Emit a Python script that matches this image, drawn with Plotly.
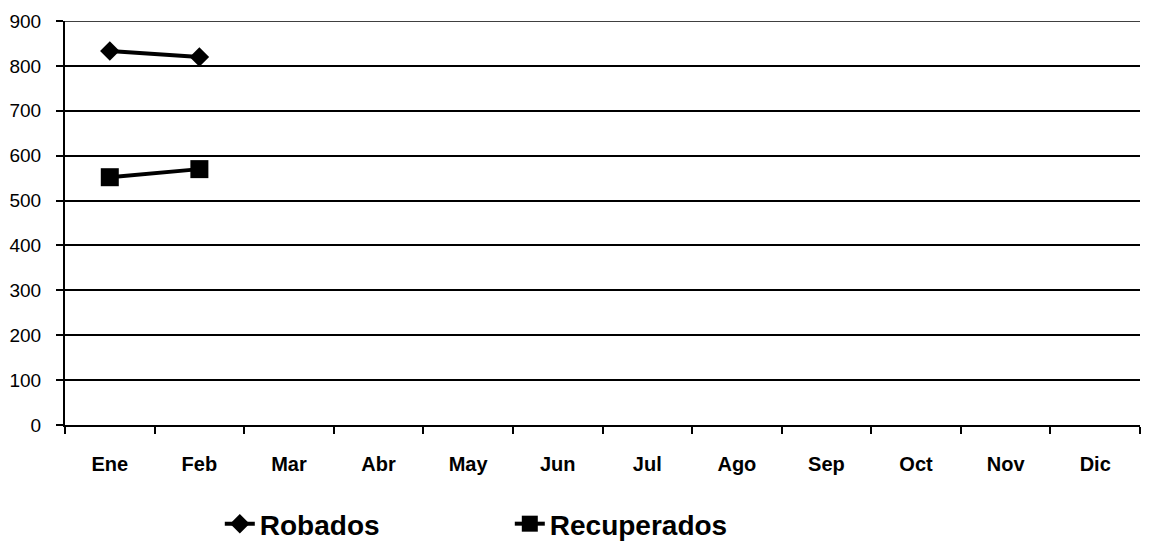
import plotly.graph_objects as go

months = ["Ene", "Feb", "Mar", "Abr", "May", "Jun", "Jul", "Ago", "Sep", "Oct", "Nov", "Dic"]
robados = [833, 820]
recuperados = [552, 570]
y_ticks = [0, 100, 200, 300, 400, 500, 600, 700, 800, 900]

fig = go.Figure()
fig.add_trace(go.Scatter(
    x=months[:len(robados)], y=robados, name="Robados", mode="lines+markers",
    line=dict(color="black", width=4),
    marker=dict(symbol="diamond", size=15, color="black"),
))
fig.add_trace(go.Scatter(
    x=months[:len(recuperados)], y=recuperados, name="Recuperados", mode="lines+markers",
    line=dict(color="black", width=4),
    marker=dict(symbol="square", size=18, color="black"),
))

fig.add_shape(type="line", xref="paper", x0=0, x1=1, yref="y",
              y0=y_ticks[-1], y1=y_ticks[-1], line=dict(color="black", width=1.5))

fig.update_layout(
    width=1156, height=542,
    margin=dict(l=57, r=24, t=13, b=125, autoexpand=False),
    paper_bgcolor="white", plot_bgcolor="white",
    font=dict(family="Liberation Sans, Arial, sans-serif", color="black"),
    showlegend=True,
    legend=dict(
        orientation="h", x=0.144, xanchor="left", y=-0.245, yanchor="middle",
        font=dict(size=28, family="Liberation Sans, Arial, sans-serif", weight="bold"),
        entrywidth=245, entrywidthmode="pixels",
        itemwidth=30,
    ),
)
fig.update_xaxes(
    type="category", categoryorder="array", categoryarray=months,
    range=[-0.5, 11.5],
    showline=True, linecolor="black", linewidth=2,
    ticks="outside", tickson="boundaries", ticklen=7, tickcolor="black", tickwidth=1.5,
    tickfont=dict(size=20, weight="bold"),
    ticklabelstandoff=20,
    showgrid=False,
)
fig.update_yaxes(
    range=[0, 900], tickvals=y_ticks,
    showline=True, linecolor="black", linewidth=2,
    ticks="outside", ticklen=7, tickcolor="black", tickwidth=1.5,
    tickfont=dict(size=19),
    ticklabelstandoff=11,
    showgrid=True, gridcolor="black", gridwidth=1.5,
    zeroline=False,
)

fig.write_html("out.html")
